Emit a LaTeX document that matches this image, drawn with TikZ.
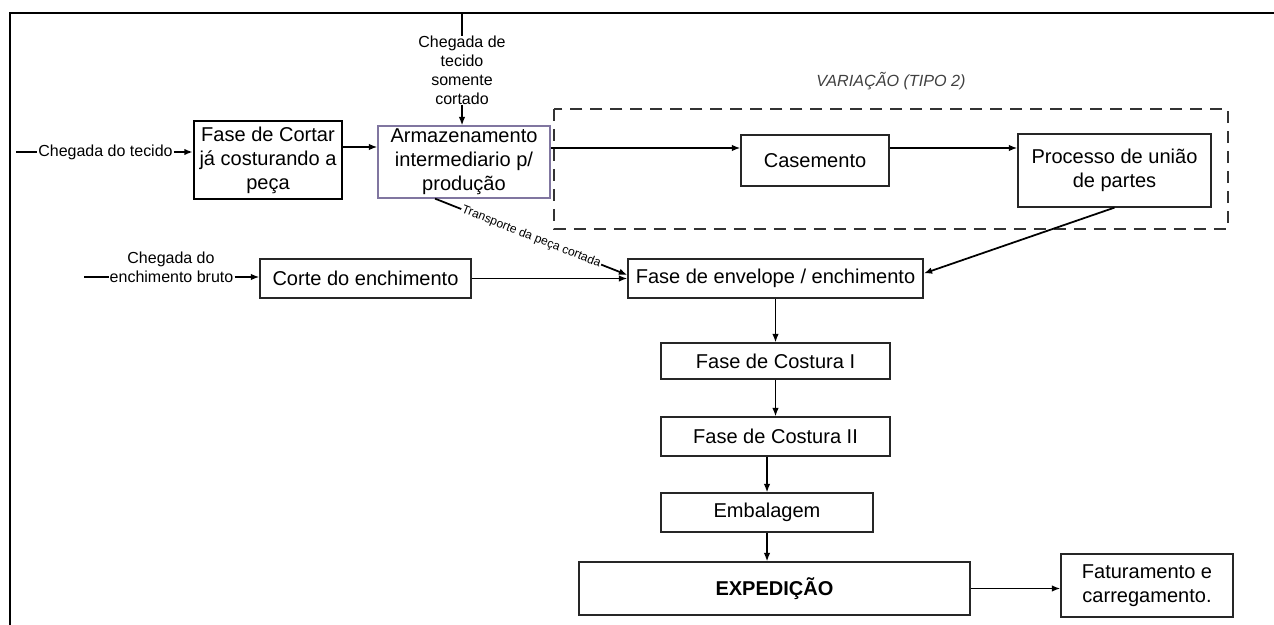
\documentclass[tikz,border=0pt]{standalone}
\usepackage{fontspec}
\setmainfont{Liberation Sans}
\usetikzlibrary{arrows.meta,positioning}

\newlength\pxu
\setlength\pxu{0.02cm}
\definecolor{armazcor}{RGB}{128,118,160}

\tikzset{
	etapa/.style={draw=black!85,line width=0.7pt,inner sep=0,align=center,font={\fontsize{11.4}{13.6}\selectfont}},
	rotulo/.style={inner sep=0.5pt,align=center,font={\fontsize{9.1}{10.8}\selectfont}},
	seta/.style={-{Latex[length=0.17cm,width=0.13cm]},line width=1pt},
	tracejado/.style={draw=black!80,line width=1.2pt,dash pattern=on 0.24cm off 0.16cm},
}

\begin{document}
\begin{tikzpicture}[x=0.02cm,y=-0.02cm]
	\useasboundingbox (0,0) rectangle (1274,625);
	% moldura
	\draw[line width=1.1pt] (10,625) -- (10,13) -- (1274,13);

	% etapas
	\node[etapa,draw=black,line width=1.4pt,minimum width=148\pxu,minimum height=78\pxu] (cortar) at (268,160) {Fase de Cortar\\já costurando a\\peça};
	\node[etapa,draw=armazcor,minimum width=172\pxu,minimum height=72\pxu] (armaz) at (464,162) {Armazenamento\\intermediario p/\\produção};
	\node[etapa,minimum width=148\pxu,minimum height=51\pxu] (cas) at (815,160.5) {Casemento};
	\node[etapa,minimum width=193\pxu,minimum height=73\pxu] (proc) at (1114.5,170.5) {Processo de união\\de partes};
	\node[etapa,minimum width=211\pxu,minimum height=39\pxu] (corte) at (365.5,278.5) {Corte do enchimento};
	\node[etapa,minimum width=295\pxu,minimum height=39\pxu] (env) at (775.5,278.5) {Fase de envelope / enchimento};
	\node[etapa,minimum width=229\pxu,minimum height=36\pxu] (cos1) at (775.5,361) {Fase de Costura I};
	\node[etapa,minimum width=229\pxu,minimum height=39\pxu] (cos2) at (775.5,436.5) {Fase de Costura II};
	\node[etapa,minimum width=212\pxu,minimum height=39\pxu] (emb) at (767,512.5) {Embalagem};
	\node[etapa,font={\fontsize{11.4}{13.6}\selectfont\bfseries},minimum width=391\pxu,minimum height=53\pxu] (exped) at (774.5,588.5) {EXPEDIÇÃO};
	\node[etapa,minimum width=172\pxu,minimum height=63\pxu] (fat) at (1147,585.5) {Faturamento e\\carregamento.};

	% variante
	\draw[tracejado] (554,109) rectangle (1228,229);
	\node[inner sep=0,text=black!75,font={\fontsize{9.2}{11}\selectfont\itshape}] (variacao) at (891,81) {VARIAÇÃO (TIPO 2)};

	% entradas
	\coordinate (ent1) at (16,152);
	\node[rotulo] (chegdo) at (105.5,152) {Chegada do tecido};
	\draw[line width=0.8pt] (ent1) -- (chegdo.west);
	\draw[seta] (chegdo.east) -- (chegdo.east -| cortar.west);

	\coordinate (topo) at (462,13);
	\node[rotulo,inner sep=0] (chegtec) at (462,70.5) {Chegada de\\tecido\\somente\\cortado};
	\draw[line width=1pt] (topo) -- (chegtec.north);
	\draw[seta,line width=0.8pt] (chegtec.south) -- (chegtec.south |- armaz.north);

	\coordinate (ent2) at (84,277);
	\node[rotulo] (chegench) at (171,259) {Chegada do};
	\node[rotulo] (enchb) at (171.5,277) {enchimento bruto};
	\draw[line width=0.8pt] (ent2) -- (enchb.west);
	\draw[seta] (enchb.east) -- (enchb.east -| corte.west);

	% fluxo
	\draw[seta] ([yshift=13\pxu]cortar.east) coordinate (s1) -- (s1 -| armaz.west);
	\draw[seta] ([yshift=14\pxu]armaz.east) coordinate (s2) -- (s2 -| cas.west);
	\draw[seta] ([yshift=12.5\pxu]cas.east) coordinate (s3) -- (s3 -| proc.west);
	\draw[seta] (proc.south) -- ([yshift=5\pxu]env.east);
	\draw[seta] ([xshift=-29\pxu]armaz.south) -- node[sloped,fill=white,inner sep=0.5pt,font={\fontsize{6.9}{8}\selectfont}] (transp) {Transporte da peça cortada} ([yshift=3.5\pxu]env.west);
	\draw[seta] (corte.east) -- (env.west);
	\draw[seta,line width=0.8pt] (env.south) -- (cos1.north);
	\draw[seta,line width=0.8pt] (cos1.south) -- (cos2.north);
	\draw[seta,line width=0.8pt] (cos2.south -| emb.north) -- (emb.north);
	\draw[seta,line width=0.8pt] (emb.south) -- (emb.south |- exped.north);
	\draw[seta] (exped.east) -- (exped.east -| fat.west);
\end{tikzpicture}
\end{document}
